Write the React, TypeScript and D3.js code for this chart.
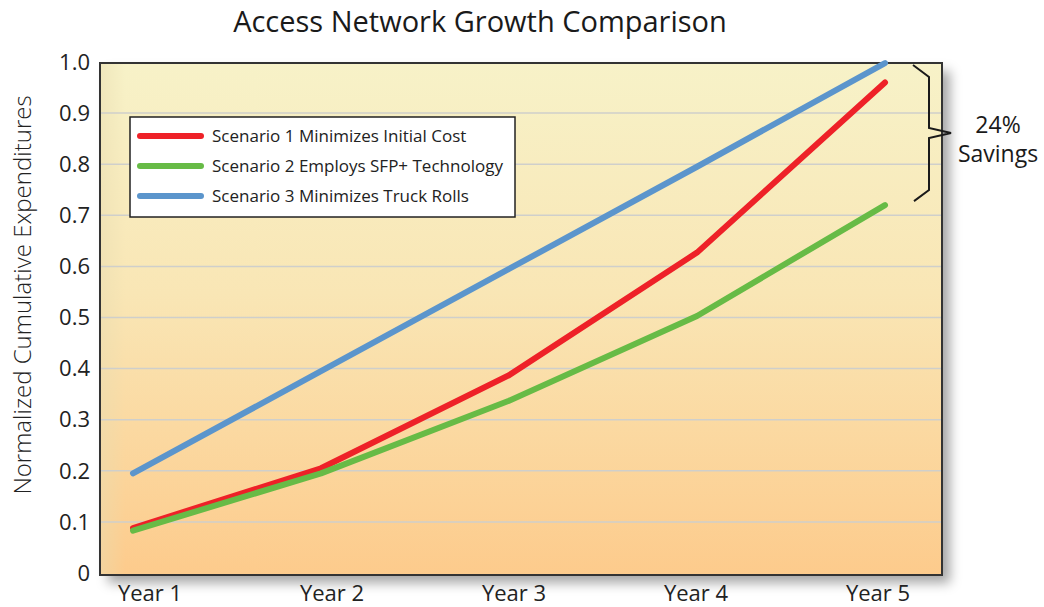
import * as d3 from "d3";

const years = ["Year 1", "Year 2", "Year 3", "Year 4", "Year 5"];
const scenario1 = [0.088, 0.205, 0.387, 0.627, 0.96];
const scenario2 = [0.083, 0.195, 0.337, 0.503, 0.72];
const scenario3 = [0.195, 0.395, 0.595, 0.795, 0.998];
const yTicks = [0, 0.1, 0.2, 0.3, 0.4, 0.5, 0.6, 0.7, 0.8, 0.9, 1.0];
const seriesNames = [
  "Scenario 1 Minimizes Initial Cost",
  "Scenario 2 Employs SFP+ Technology",
  "Scenario 3 Minimizes Truck Rolls",
];
const colors = ["#ee2128", "#67bb46", "#5b95cc"];
const savingsLabel = ["24%", "Savings"];

const W = 1044;
const H = 607;
const FONT = "'Open Sans', 'Noto Sans', sans-serif";

export default function App() {
  const frame = { left: 100, right: 942, top: 63, bottom: 575 };
  const y = d3.scaleLinear().domain([0, 1]).range([573, 62]);
  const x = d3.scalePoint<string>().domain(years).range([133, 885]);
  const xLabel = d3.scalePoint<string>().domain(years).range([150, 878]);

  const line = d3
    .line<number>()
    .x((_, i) => x(years[i]) ?? 0)
    .y((d) => y(d));

  const series = [scenario1, scenario2, scenario3];

  // brace between top scenario and best scenario at Year 5
  const bTop = y(scenario3[4]) + 2;
  const bBot = y(scenario2[4]) - 4;
  const bMid = (bTop + bBot) / 2;
  const bx = 913;
  const brace = [
    [bx, bTop],
    [bx + 16, bTop + 12],
    [bx + 16, bMid - 5],
    [bx + 38, bMid],
    [bx + 16, bMid + 5],
    [bx + 16, bBot - 11],
    [bx + 1, bBot],
  ] as [number, number][];

  return (
    <svg width={W} height={H} style={{ position: "absolute", left: 0, top: 0, background: "#fff" }}>
      <defs>
        <linearGradient id="bg" x1="0" y1="0" x2="0" y2="1">
          <stop offset="0%" stopColor="#f7f2c8" />
          <stop offset="45%" stopColor="#f9e6b5" />
          <stop offset="100%" stopColor="#fdcb8c" />
        </linearGradient>
        <linearGradient id="vign" x1="0" y1="0" x2="1" y2="0">
          <stop offset="0%" stopColor="#e8dcb0" stopOpacity={0.5} />
          <stop offset="3%" stopColor="#e8dcb0" stopOpacity={0} />
        </linearGradient>
        <filter id="shadow" x="-5%" y="-5%" width="115%" height="120%">
          <feDropShadow dx="8" dy="8" stdDeviation="6" floodColor="#000" floodOpacity="0.35" />
        </filter>
      </defs>

      <text x={480} y={32} textAnchor="middle" fontFamily={FONT} fontSize={29} fill="#1a1a1a" fontWeight={500}>
        Access Network Growth Comparison
      </text>

      <rect
        x={frame.left}
        y={frame.top}
        width={frame.right - frame.left}
        height={frame.bottom - frame.top}
        fill="url(#bg)"
        filter="url(#shadow)"
      />
      <rect
        x={frame.left}
        y={frame.top}
        width={frame.right - frame.left}
        height={frame.bottom - frame.top}
        fill="url(#vign)"
      />

      {yTicks.slice(1, -1).map((t) => (
        <line key={t} x1={frame.left} x2={frame.right} y1={y(t)} y2={y(t)} stroke="#cfcfcb" strokeWidth={1.5} />
      ))}

      <rect
        x={frame.left}
        y={frame.top}
        width={frame.right - frame.left}
        height={frame.bottom - frame.top}
        fill="none"
        stroke="#333"
        strokeWidth={2}
      />

      {yTicks.map((t) => (
        <text
          key={t}
          x={90}
          y={y(t)}
          dy="0.35em"
          textAnchor="end"
          fontFamily={FONT}
          fontSize={22}
          fill="#222"
        >
          {t === 0 ? "0" : t.toFixed(1)}
        </text>
      ))}

      {years.map((yr) => (
        <text key={yr} x={xLabel(yr)} y={601} textAnchor="middle" fontFamily={FONT} fontSize={22} fill="#222">
          {yr}
        </text>
      ))}

      <text
        transform={`translate(31,295) rotate(-90)`}
        textAnchor="middle"
        fontFamily={FONT}
        fontSize={24}
        fontWeight={300}
        fill="#222"
      >
        Normalized Cumulative Expenditures
      </text>

      {[2, 0, 1].map((i) => (
        <path
          key={i}
          d={line(series[i]) ?? ""}
          fill="none"
          stroke={colors[i]}
          strokeWidth={6}
          strokeLinecap="round"
          strokeLinejoin="round"
        />
      ))}

      <g>
        <rect x={130} y={117} width={385} height={100} fill="#fff" stroke="#222" strokeWidth={1.5} />
        {seriesNames.map((name, i) => (
          <g key={name} transform={`translate(0,${136 + i * 30})`}>
            <line x1={140} x2={201} y1={0} y2={0} stroke={colors[i]} strokeWidth={6} strokeLinecap="round" />
            <text x={212} y={0} dy="0.35em" fontFamily={FONT} fontSize={17} fill="#222">
              {name}
            </text>
          </g>
        ))}
      </g>

      <path d={d3.line()(brace) ?? ""} fill="none" stroke="#1a1a1a" strokeWidth={2} />
      {savingsLabel.map((s, i) => (
        <text key={s} x={998} y={133 + i * 29} textAnchor="middle" fontFamily={FONT} fontSize={23} fill="#1a1a1a">
          {s}
        </text>
      ))}
    </svg>
  );
}
